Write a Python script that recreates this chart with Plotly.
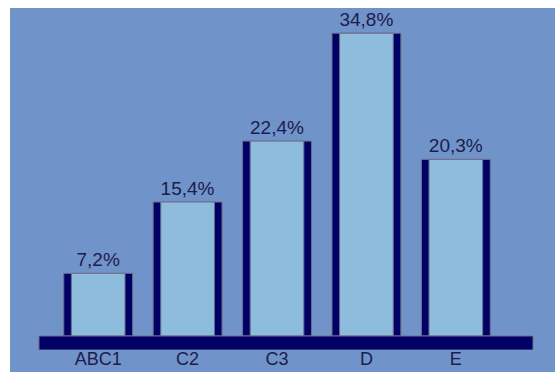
import plotly.graph_objects as go

# Share of each socioeconomic group (%)
categories = ["ABC1", "C2", "C3", "D", "E"]
shares = [7.2, 15.4, 22.4, 34.8, 20.3]

BG_BLUE = "#7093c9"
BAR_LIGHT = "#8dbcdc"
NAVY = "#000066"
TEXT = "#1c1c4e"
EDGE = "#6e6e8c"
FONT = "Liberation Sans, Arial, sans-serif"

fig = go.Figure()

# Dark outer bar gives the navy side edges
fig.add_trace(go.Bar(
    x=categories, y=shares, width=0.77,
    marker=dict(color=NAVY, line=dict(color=EDGE, width=1)),
    hoverinfo="skip",
))

# Lighter face of each bar, with the value label on top
fig.add_trace(go.Bar(
    x=categories, y=shares, width=0.60,
    marker=dict(color=BAR_LIGHT, line=dict(color=EDGE, width=1)),
    texttemplate="%{y:.1f}%", textposition="outside",
    textfont=dict(size=19, color=TEXT, family=FONT),
    constraintext="none", cliponaxis=False,
))

fig.update_layout(
    width=555, height=372,
    margin=dict(l=39, r=22, t=8, b=22, autoexpand=False),
    paper_bgcolor="white",
    plot_bgcolor=BG_BLUE,
    barmode="overlay",
    showlegend=False,
    separators=",.",
    font=dict(family=FONT, size=19, color=TEXT),
    xaxis=dict(
        range=[-0.662, 4.863], showgrid=False, zeroline=False,
        showline=False, ticks="", tickfont=dict(size=18, color=TEXT),
        ticklabelstandoff=-4, automargin=False, fixedrange=True,
    ),
    yaxis=dict(
        range=[-1.609, 37.7], showgrid=False, zeroline=False,
        showline=False, showticklabels=False, automargin=False,
        fixedrange=True,
    ),
    shapes=[
        # blue backdrop filling the frame beyond the plot area
        dict(type="rect", xref="paper", yref="paper",
             x0=-0.0587, x1=1.1, y0=-0.2, y1=1,
             fillcolor=BG_BLUE, line=dict(width=0), layer="below"),
        # navy floor the bars stand on
        dict(type="rect", xref="paper", yref="y",
             x0=0, x1=1, y0=-1.609, y1=0,
             fillcolor=NAVY, line=dict(color=EDGE, width=1), layer="above"),
    ],
)

fig.write_html("out.html")
